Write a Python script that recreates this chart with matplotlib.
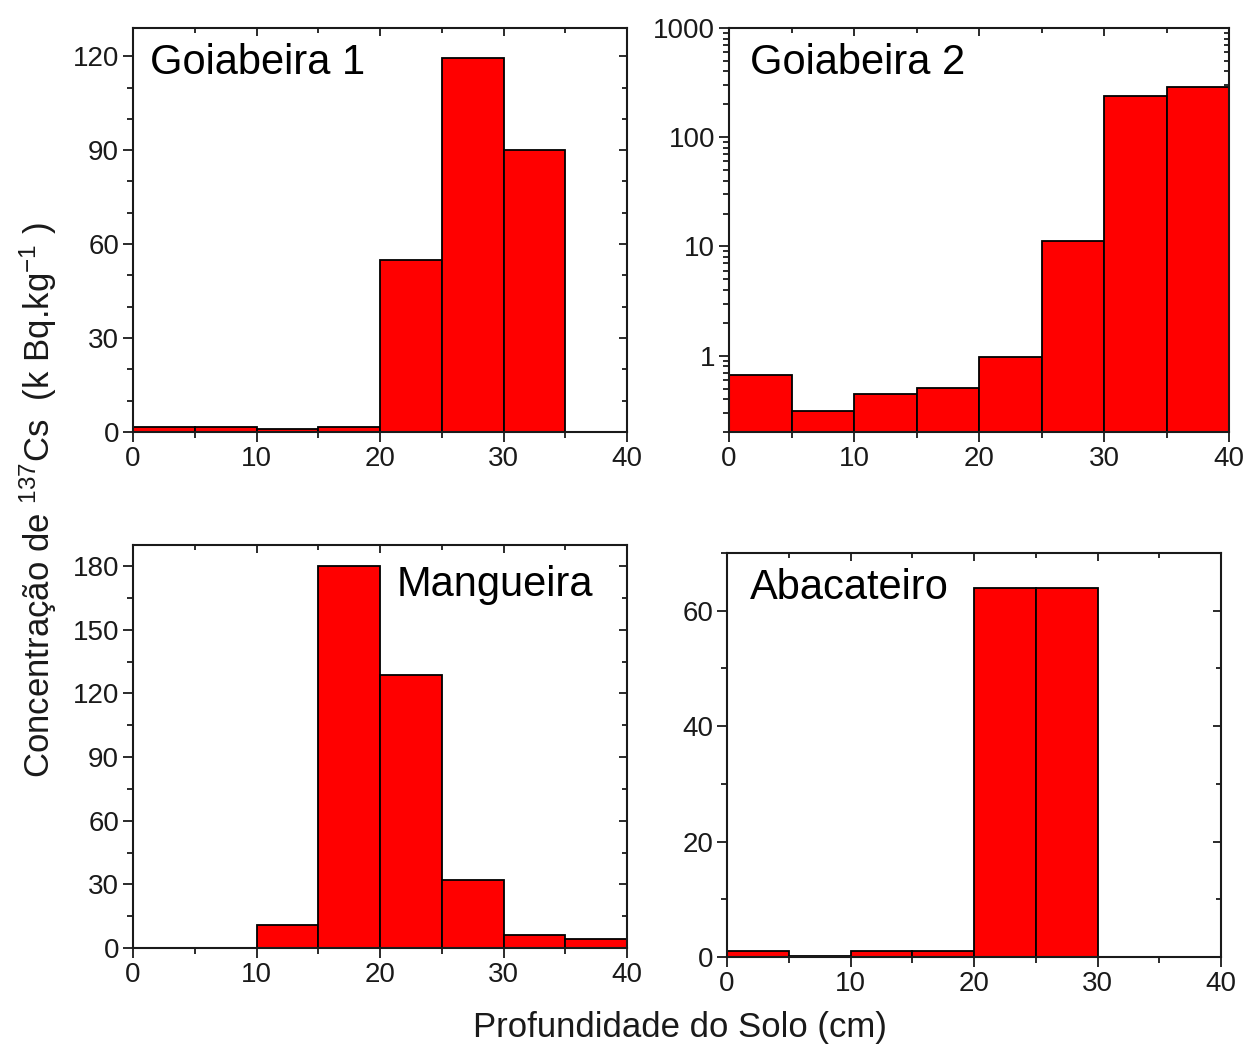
import numpy as np
import matplotlib
matplotlib.use('Agg')
import matplotlib.pyplot as plt
from matplotlib.ticker import MultipleLocator, LogLocator, FixedLocator, NullFormatter, FuncFormatter

plt.rcParams['font.family'] = ['Liberation Sans', 'DejaVu Sans']
plt.rcParams['mathtext.fontset'] = 'custom'
plt.rcParams['mathtext.rm'] = 'Liberation Sans'
plt.rcParams['mathtext.it'] = 'Liberation Sans:italic'

# bin left edges (cm), 5 cm wide
depth = [0, 5, 10, 15, 20, 25, 30, 35]
goiabeira1 = [1.6, 1.6, 0.9, 1.6, 55, 119.5, 90, 0]
goiabeira2 = [0.67, 0.31, 0.45, 0.51, 0.97, 11.3, 240, 290]
mangueira = [0, 0, 10.8, 180, 128.5, 32, 6, 4.2]
abacateiro = [1.0, 0.2, 1.0, 1.0, 64, 64, 0, 0]

W, H = 1251, 1047
fig = plt.figure(figsize=(W / 100, H / 100), dpi=100)

def px_rect(x0, y0, x1, y1):
    return [x0 / W, 1 - y1 / H, (x1 - x0) / W, (y1 - y0) / H]

ink = '#1a1a1a'

def setup(ax, ymax, ymaj, ymin, log=False):
    ax.set_xlim(0, 40)
    ax.xaxis.set_major_locator(MultipleLocator(10))
    ax.xaxis.set_minor_locator(MultipleLocator(5))
    if log:
        ax.set_yscale('log')
        ax.set_ylim(0.2, 1000)
        ax.yaxis.set_major_locator(FixedLocator([1, 10, 100, 1000]))
        ax.yaxis.set_minor_locator(LogLocator(base=10, subs=np.arange(2, 10)))
        ax.yaxis.set_major_formatter(FuncFormatter(lambda v, p: '%d' % v))
        ax.yaxis.set_minor_formatter(NullFormatter())
    else:
        ax.set_ylim(0, ymax)
        ax.yaxis.set_major_locator(MultipleLocator(ymaj))
        ax.yaxis.set_minor_locator(MultipleLocator(ymin))
    for s in ax.spines.values():
        s.set_linewidth(1.5)
        s.set_color(ink)
    ax.tick_params(which='both', direction='out', width=1.3, colors=ink,
                   labelsize=20, pad=3)
    ax.tick_params(which='major', length=7)
    ax.tick_params(which='minor', length=4)
    # mirrored ticks pointing inward on top and right
    top = ax.secondary_xaxis('top')
    top.xaxis.set_major_locator(MultipleLocator(10))
    top.xaxis.set_minor_locator(MultipleLocator(5))
    right = ax.secondary_yaxis('right')
    if log:
        right.yaxis.set_major_locator(FixedLocator([1, 10, 100, 1000]))
        right.yaxis.set_minor_locator(LogLocator(base=10, subs=np.arange(2, 10)))
        right.yaxis.set_minor_formatter(NullFormatter())
    else:
        right.yaxis.set_major_locator(MultipleLocator(ymaj))
        right.yaxis.set_minor_locator(MultipleLocator(ymin))
    for sec in (top, right):
        for s in sec.spines.values():
            s.set_visible(False)
        sec.tick_params(which='both', direction='in', width=1.3, colors=ink,
                        labelleft=False, labelright=False, labeltop=False,
                        labelbottom=False)
        sec.tick_params(which='major', length=6)
        sec.tick_params(which='minor', length=3.5)

panels = [
    (px_rect(133, 28, 627, 432), goiabeira1, 129, 30, 10, False, 'Goiabeira 1', 150, 63),
    (px_rect(729, 28, 1229, 432), goiabeira2, None, None, None, True, 'Goiabeira 2', 750, 63),
    (px_rect(133, 545, 627, 948), mangueira, 190, 30, 15, False, 'Mangueira', 397, 585),
    (px_rect(727, 553, 1221, 957), abacateiro, 70, 20, 10, False, 'Abacateiro', 750, 588),
]

for rect, vals, ymax, ymaj, ymin, log, name, tx, ty in panels:
    ax = fig.add_axes(rect)
    ax.bar(depth, vals, width=5, align='edge', color='#ff0000',
           edgecolor='black', linewidth=1.3, zorder=2)
    setup(ax, ymax, ymaj, ymin, log)
    fig.text(tx / W, 1 - ty / H, name, fontsize=30, ha='left', va='center', color='black')

fig.text(38 / W, 1 - 500 / H, r'Concentração de $^{137}$Cs  (k Bq.kg$^{-1}$ )',
         rotation=90, fontsize=25, ha='center', va='center', color=ink)
fig.text(680 / W, 1 - 1028 / H, 'Profundidade do Solo (cm)',
         fontsize=25, ha='center', va='center', color=ink)

plt.savefig('out.png', dpi=100)
